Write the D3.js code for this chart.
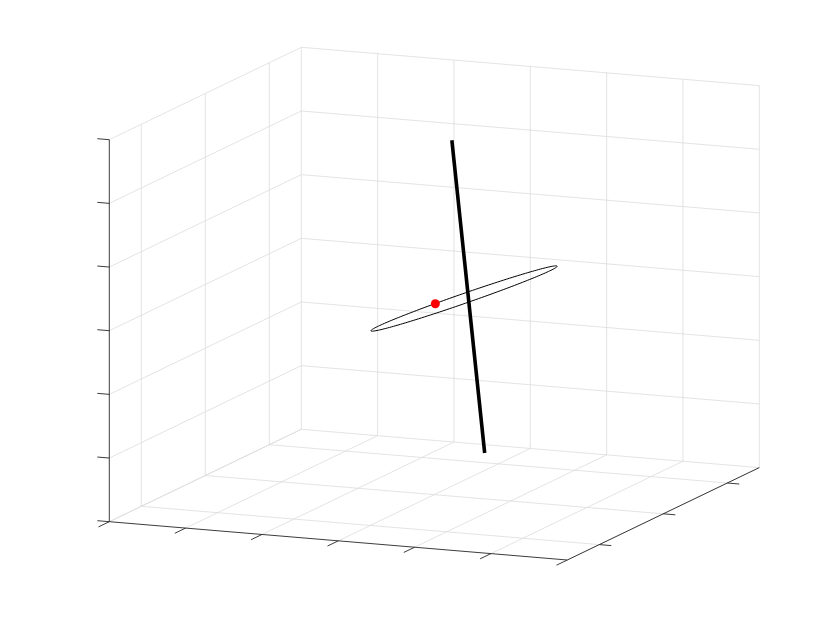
<!DOCTYPE html>
<html lang="en">
<head>
    <meta charset="UTF-8">
    <title>3D line and ellipse</title>
    <script src="https://d3js.org/d3.v7.min.js"></script>
    <style>
        body { margin: 0; background: #fff; }
        .grid { stroke: #dcdcdc; stroke-width: 0.8; fill: none; }
        .axis { stroke: #262626; stroke-width: 0.9; fill: none; }
    </style>
</head>
<body>
    <script>
        const width = 840;
        const height = 630;

        // axis limits (no tick labels shown in the figure)
        const xLimits = [-3, 3];
        const yLimits = [-1.5, 1.5];
        const zLimits = [-3, 3];

        // thick black segment, endpoints [x, y, z]
        const rodStart = [0.66, 0, -2.28];
        const rodEnd = [0.23, 0, 2.59];

        // thin ellipse: centre and two conjugate semi-axes
        const ellipseCenter = [0.39, 0, 0.12];
        const ellipseAxisU = [1.22, 0, 0.63];
        const ellipseAxisV = [-0.82, 1.0, -0.64];

        // red marker
        const markerPoint = [0.81, -0.95, 0.54];

        // screen geometry of the box (origin corner and full-range edge vectors)
        const origin = [109.3, 521.7];
        const ex = [458, 38.3];
        const ey = [192, -92.4];
        const ez = [0, -382];

        const xs = d3.scaleLinear().domain(xLimits).range([0, 1]);
        const ys = d3.scaleLinear().domain(yLimits).range([0, 1]);
        const zs = d3.scaleLinear().domain(zLimits).range([0, 1]);

        function project(p) {
            const fx = xs(p[0]), fy = ys(p[1]), fz = zs(p[2]);
            return [
                origin[0] + fx * ex[0] + fy * ey[0] + fz * ez[0],
                origin[1] + fx * ex[1] + fy * ey[1] + fz * ez[1]
            ];
        }

        const xTicks = xs.ticks(6);
        const yTicks = ys.ticks(3);
        const zTicks = zs.ticks(6);
        const [x0, x1] = xLimits, [y0, y1] = yLimits, [z0, z1] = zLimits;

        const svg = d3.select('body').append('svg')
            .attr('width', width)
            .attr('height', height);

        svg.append('rect').attr('width', width).attr('height', height).attr('fill', '#fff');

        const seg = (a, b) => 'M' + project(a).join(',') + 'L' + project(b).join(',');

        // grid lines
        const gridSegs = [];
        // back wall (y = ymax)
        xTicks.forEach(t => gridSegs.push([[t, y1, z0], [t, y1, z1]]));
        zTicks.forEach(t => gridSegs.push([[x0, y1, t], [x1, y1, t]]));
        // left wall (x = xmin)
        yTicks.forEach(t => gridSegs.push([[x0, t, z0], [x0, t, z1]]));
        zTicks.forEach(t => gridSegs.push([[x0, y0, t], [x0, y1, t]]));
        // floor (z = zmin)
        xTicks.forEach(t => gridSegs.push([[t, y0, z0], [t, y1, z0]]));
        yTicks.forEach(t => gridSegs.push([[x0, t, z0], [x1, t, z0]]));

        svg.append('g').selectAll('path')
            .data(gridSegs)
            .enter().append('path')
            .attr('class', 'grid')
            .attr('d', d => seg(d[0], d[1]));

        // axes
        const axes = svg.append('g');
        axes.append('path').attr('class', 'axis').attr('d', seg([x0, y0, z0], [x1, y0, z0]));
        axes.append('path').attr('class', 'axis').attr('d', seg([x1, y0, z0], [x1, y1, z0]));
        axes.append('path').attr('class', 'axis').attr('d', seg([x0, y0, z0], [x0, y0, z1]));

        const tickLen = 12;
        function unit(v, s) {
            const l = Math.hypot(v[0], v[1]);
            return [s * v[0] / l * tickLen, s * v[1] / l * tickLen];
        }
        function tickPath(p, dir) {
            const a = project(p);
            return 'M' + a.join(',') + 'l' + dir.join(',');
        }
        const xTickDir = unit(ey, -1);
        const yTickDir = unit(ex, 1);
        const zTickDir = unit(ex, -1);

        axes.selectAll('.xtick').data(xTicks).enter().append('path')
            .attr('class', 'axis xtick')
            .attr('d', t => tickPath([t, y0, z0], xTickDir));
        axes.selectAll('.ytick').data(yTicks).enter().append('path')
            .attr('class', 'axis ytick')
            .attr('d', t => tickPath([x1, t, z0], yTickDir));
        axes.selectAll('.ztick').data(zTicks).enter().append('path')
            .attr('class', 'axis ztick')
            .attr('d', t => tickPath([x0, y0, t], zTickDir));

        // ellipse
        const angles = d3.range(0, 361, 2).map(a => a * Math.PI / 180);
        const ellipsePts = angles.map(t => project([0, 1, 2].map(i =>
            ellipseCenter[i] + Math.cos(t) * ellipseAxisU[i] + Math.sin(t) * ellipseAxisV[i])));
        svg.append('path')
            .attr('d', d3.line()(ellipsePts))
            .attr('fill', 'none')
            .attr('stroke', '#000')
            .attr('stroke-width', 1);

        // thick segment
        svg.append('path')
            .attr('d', d3.line()([project(rodStart), project(rodEnd)]))
            .attr('stroke', '#000')
            .attr('stroke-width', 3.6);

        // red marker
        const m = project(markerPoint);
        svg.append('circle')
            .attr('cx', m[0])
            .attr('cy', m[1])
            .attr('r', 4.5)
            .attr('fill', '#ff0000');
    </script>
</body>
</html>
